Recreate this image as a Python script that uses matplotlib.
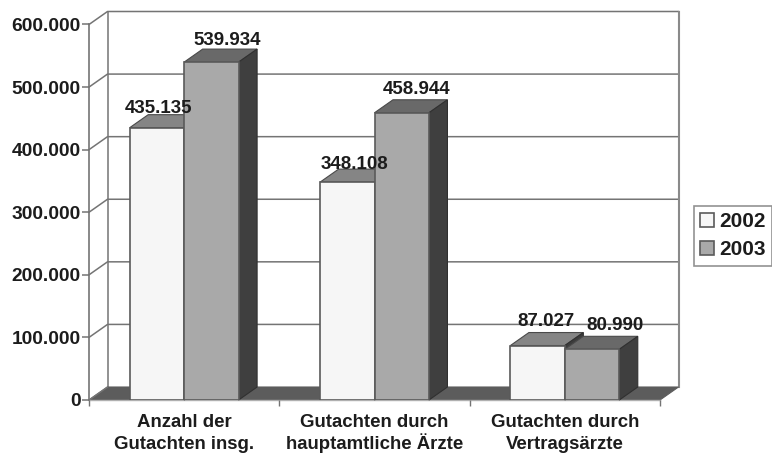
"""German Gutachten 3D bar chart"""
import numpy as np
import matplotlib.pyplot as plt
from matplotlib.patches import Polygon

plt.rcParams['font.family'] = ['Liberation Sans', 'DejaVu Sans']
plt.rcParams['font.weight'] = 'bold'

# Data
categories = ['Anzahl der\nGutachten insg.',
              'Gutachten durch\nhauptamtliche Ärzte',
              'Gutachten durch\nVertragsärzte']
years = ['2002', '2003']
values_2002 = [435135, 348108, 87027]
values_2003 = [539934, 458944, 80990]
y_ticks = [0, 100000, 200000, 300000, 400000, 500000, 600000]

W, H = 772, 454
fig = plt.figure(figsize=(W / 100, H / 100), dpi=100, facecolor='white')
# front plane of the fake 3D box, in pixels
left, right, bottom, top = 89, 660, 400, 24.5
ax = fig.add_axes([left / W, 1 - bottom / H, (right - left) / W, (bottom - top) / H])
ax.patch.set_alpha(0)
ax.set_xlim(0, 3)
ax.set_ylim(0, 600000)

# depth offset in data units
dx = 18.5 * 3 / (right - left)
dy = 13 * 600000 / (bottom - top)
bar_w = 0.286
wall = '#747474'
text_c = '#1c1c1c'


def fmt(v):
    return f'{v:,}'.replace(',', '.')


# walls and floor
ax.add_patch(Polygon([(0, 0), (3, 0), (3 + dx, dy), (dx, dy)], closed=True,
                     fc='#5c5c5c', ec='#5c5c5c', lw=0.8, clip_on=False, zorder=1))
for t in y_ticks[1:]:
    ax.plot([0, dx, 3 + dx], [t, t + dy, t + dy], color=wall, lw=1.1, clip_on=False, zorder=0.5)
ax.plot([dx, dx], [dy, 600000 + dy], color=wall, lw=1.1, clip_on=False, zorder=0.5)
ax.plot([3 + dx, 3 + dx], [dy, 600000 + dy], color='#8a8a8a', lw=1.5, clip_on=False, zorder=0.5)
ax.plot([0, dx], [0, dy], color=wall, lw=1.1, clip_on=False, zorder=1)


def draw_bar(x, v, face, top_c, side_c, z):
    x0, x1 = x, x + bar_w
    ec = '#5a5a5a'
    ax.add_patch(Polygon([(x0, v), (x1, v), (x1 + dx, v + dy), (x0 + dx, v + dy)], closed=True,
                         fc=top_c, ec='#4a4a4a', lw=0.8, clip_on=False, zorder=z))
    ax.add_patch(Polygon([(x1, 0), (x1 + dx, dy), (x1 + dx, v + dy), (x1, v)], closed=True,
                         fc=side_c, ec='#303030', lw=0.8, clip_on=False, zorder=z))
    return ax.bar(x0, v, bar_w, align='edge', color=face, edgecolor=ec, linewidth=1.2, zorder=z + 0.1)


# bars, 2002 then 2003 so the second one sits in front
for i in range(len(categories)):
    b1 = draw_bar(i + 0.5 - bar_w, values_2002[i], '#f6f6f6', '#858585', '#3c3c3c', 2 + i)
    b2 = draw_bar(i + 0.5, values_2003[i], '#a9a9a9', '#696969', '#3f3f3f', 2.5 + i)

# value labels, pixel shift from the bar centre
shift_2002 = [2, 7, 8]
shift_2003 = [15.5, 15, 23]
lift_2002 = [19, 18, 24]
lift_2003 = [22, 23, 24]
for i in range(len(categories)):
    ax.annotate(fmt(values_2002[i]), (i + 0.5 - bar_w / 2, values_2002[i]),
                xytext=(shift_2002[i], lift_2002[i]), textcoords='offset pixels',
                ha='center', va='center', fontsize=13.5, color=text_c, zorder=20)
    ax.annotate(fmt(values_2003[i]), (i + 0.5 + bar_w / 2, values_2003[i]),
                xytext=(shift_2003[i], lift_2003[i]), textcoords='offset pixels',
                ha='center', va='center', fontsize=13.5, color=text_c, zorder=20)

# axes
for s in ['top', 'right']:
    ax.spines[s].set_visible(False)
ax.spines['left'].set_color(wall)
ax.spines['left'].set_linewidth(1.2)
ax.spines['bottom'].set_color('#b0b0b0')
ax.spines['bottom'].set_linewidth(1.0)
ax.spines['bottom'].set_zorder(1.5)
ax.set_yticks(y_ticks)
ax.set_yticklabels([fmt(t) for t in y_ticks], fontsize=13.8, color=text_c)
ax.tick_params(axis='y', length=5, width=1.1, color=wall, pad=1)
ax.set_xticks([0, 1, 2, 3])
ax.set_xticklabels([])
ax.tick_params(axis='x', which='major', length=4.5, width=1.0, color=wall)

# category names line by line, the Ä would stretch a multi-line label
for i, name in enumerate(categories):
    for line, drop in zip(name.split('\n'), [-27, -49]):
        ax.annotate(line, (i + 0.5, 0), xytext=(0, drop), textcoords='offset pixels',
                    ha='center', va='baseline', fontsize=13.4, color=text_c,
                    annotation_clip=False)

leg = fig.legend([b1, b2], years, loc='upper left', bbox_to_anchor=(693.5 / W, 1 - 206 / H),
                 frameon=True, fancybox=False, edgecolor='#777777', fontsize=15,
                 handlelength=0.66, handleheight=0.66, handletextpad=0.28, labelspacing=0.44,
                 borderpad=0.3, borderaxespad=0, labelcolor=text_c)
leg.get_frame().set_linewidth(1.2)

fig.savefig('out.png', dpi=100)
plt.close()
